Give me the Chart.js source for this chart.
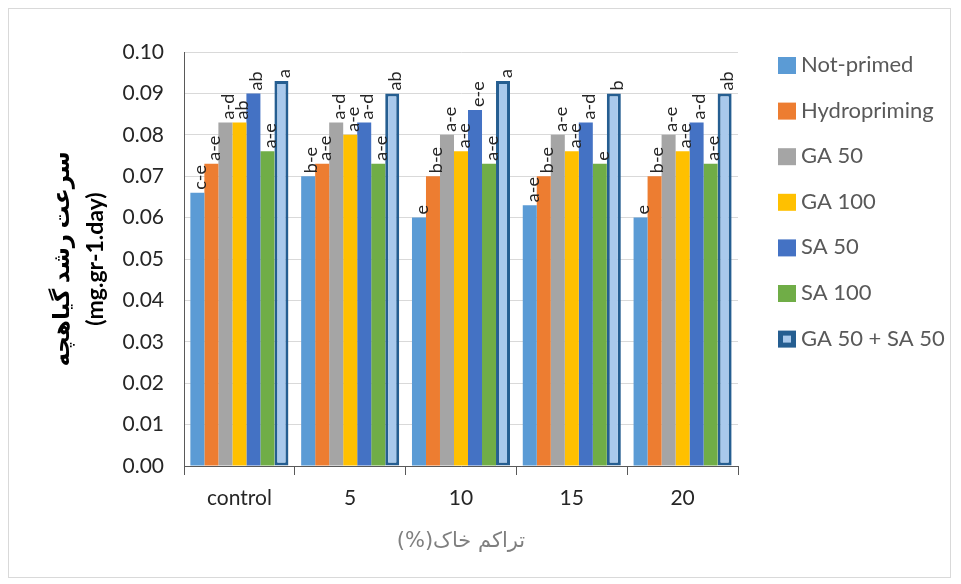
<!DOCTYPE html>
<html><head><meta charset="utf-8">
<script src="https://cdn.jsdelivr.net/npm/chart.js@4.4.0/dist/chart.umd.min.js"></script>
<style>html,body{margin:0;padding:0;background:#fff;}#wrap{width:961px;height:584px;position:relative;}</style>
</head><body><div id="wrap"><canvas id="c" width="961" height="584"></canvas></div>
<script>
const categories = ["control", "5", "10", "15", "20"];
const seriesNames = ["Not-primed", "Hydropriming", "GA 50", "GA 100", "SA 50", "SA 100", "GA 50 + SA 50"];
const notPrimed    = [0.066, 0.070, 0.060, 0.063, 0.060];
const hydropriming = [0.073, 0.073, 0.070, 0.070, 0.070];
const ga50         = [0.083, 0.083, 0.080, 0.080, 0.080];
const ga100        = [0.083, 0.080, 0.076, 0.076, 0.076];
const sa50         = [0.090, 0.083, 0.086, 0.083, 0.083];
const sa100        = [0.076, 0.073, 0.073, 0.073, 0.073];
const ga50sa50     = [0.093, 0.090, 0.093, 0.090, 0.090];
const lettersNotPrimed = ["c-e", "b-e", "e", "a-e", "e"];
const lettersHydro     = ["a-e", "a-e", "b-e", "b-e", "b-e"];
const lettersGa50      = ["a-d", "a-d", "a-e", "a-e", "a-e"];
const lettersGa100     = ["ab", "a-e", "a-e", "a-e", "a-e"];
const lettersSa50      = ["ab", "a-d", "e-e", "a-d", "a-d"];
const lettersSa100     = ["a-e", "a-e", "a-e", "e", "a-e"];
const lettersGaSa      = ["a", "ab", "a", "b", "ab"];
const yTitle = ["سرعت رشد گیاهچه", "(mg.gr-1.day)"];
const xTitle = "\u202Bتراکم خاک(%)\u202C";

const FONT = "Lato, 'DejaVu Sans', sans-serif";
const values = [notPrimed, hydropriming, ga50, ga100, sa50, sa100, ga50sa50];
const letters = [lettersNotPrimed, lettersHydro, lettersGa50, lettersGa100, lettersSa50, lettersSa100, lettersGaSa];
const fills = ["#5B9BD5", "#ED7D31", "#A5A5A5", "#FFC000", "#4472C4", "#70AD47", "#A9C9EC"];
const borders = ["#5B9BD5", "#ED7D31", "#A5A5A5", "#FFC000", "#4472C4", "#70AD47", "#255E91"];
const bw = [0, 0, 0, 0, 0, 0, 3];

const datasets = seriesNames.map((n, i) => ({
  label: n, data: values[i], backgroundColor: fills[i], borderColor: borders[i],
  borderWidth: bw[i], letters: letters[i], borderSkipped: false
}));

const framePlugin = {
  id: 'frame',
  beforeDraw(chart) {
    const ctx = chart.ctx;
    ctx.save();
    ctx.fillStyle = '#fff'; ctx.fillRect(0, 0, chart.width, chart.height);
    ctx.strokeStyle = '#d9d9d9'; ctx.lineWidth = 1;
    ctx.strokeRect(8.5, 8.5, 942, 569);
    ctx.restore();
  }
};
const labelPlugin = {
  id: 'barLetters',
  afterDatasetsDraw(chart) {
    const ctx = chart.ctx;
    ctx.save();
    ctx.font = "18px " + FONT;
    ctx.fillStyle = '#262626';
    ctx.textAlign = 'left'; ctx.textBaseline = 'middle';
    chart.data.datasets.forEach((ds, di) => {
      chart.getDatasetMeta(di).data.forEach((bar, j) => {
        ctx.save();
        ctx.translate(bar.x + 3, bar.y - 3);
        ctx.rotate(-Math.PI / 2);
        ctx.fillText(ds.letters[j], 0, 0);
        ctx.restore();
      });
    });
    ctx.restore();
  }
};
const legendPlugin = {
  id: 'sideLegend',
  afterDraw(chart) {
    const ctx = chart.ctx;
    ctx.save();
    ctx.font = "22px " + FONT;
    ctx.textAlign = 'left'; ctx.textBaseline = 'middle';
    chart.data.datasets.forEach((ds, i) => {
      const cy = 65 + i * 45.6;
      const x = 778;
      ctx.fillStyle = ds.borderColor;
      ctx.fillRect(x, cy - 8, 18, 17);
      if (ds.borderWidth) { ctx.fillStyle = ds.backgroundColor; ctx.fillRect(x + 5, cy - 3, 8, 7); }
      ctx.fillStyle = '#595959';
      ctx.fillText(ds.label, x + 23, cy);
    });
    ctx.restore();
  }
};

new Chart(document.getElementById('c'), {
  type: 'bar',
  data: { labels: categories, datasets },
  options: {
    responsive: false, animation: false,
    layout: { padding: { left: 44, right: 223, top: 52, bottom: 0 } },
    datasets: { bar: { categoryPercentage: 0.885, barPercentage: 1.0 } },
    plugins: { legend: { display: false }, tooltip: { enabled: false } },
    scales: {
      x: {
        grid: { offset: true, drawOnChartArea: false, color: '#595959', tickLength: 9, tickColor: '#595959' },
        border: { color: '#595959' },
        ticks: { font: { size: 21, family: FONT }, color: '#262626', padding: 11 },
        title: { display: true, text: xTitle, font: { size: 21, family: "'DejaVu Sans', sans-serif" }, color: '#7f7f7f', padding: { top: 8, bottom: 30 } },
        afterFit(s) { s.height = 118; }
      },
      y: {
        min: 0, max: 0.1,
        ticks: { stepSize: 0.01, font: { size: 21, family: FONT }, color: '#262626', padding: 20,
                 callback: v => Number(v).toFixed(2) },
        grid: { color: '#d9d9d9', tickLength: 0, tickColor: '#595959' },
        border: { color: '#595959' },
        title: { display: true, text: yTitle, font: { size: 23, weight: 'bold', family: FONT, lineHeight: 1.5 }, color: '#000', padding: { top: 0, bottom: 6 } },
        afterFit(s) { s.width = 140; }
      }
    }
  },
  plugins: [framePlugin, labelPlugin, legendPlugin]
});
</script></body></html>
